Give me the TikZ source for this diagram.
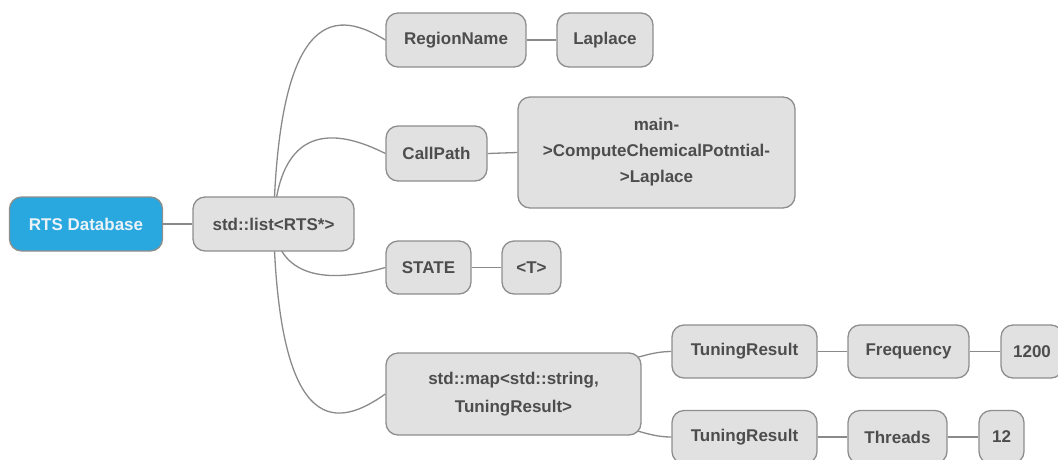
\documentclass[tikz,border=0pt]{standalone}
\usepackage{fontspec}
\setmainfont{Liberation Sans}
\usetikzlibrary{backgrounds}
\definecolor{nodefill}{HTML}{E1E1E1}
\definecolor{nodeline}{HTML}{8E8E8E}
\definecolor{nodetext}{HTML}{4D4D4D}
\definecolor{rootfill}{HTML}{29A8E0}
\definecolor{roottext}{HTML}{EAF2F8}
\definecolor{linkcol}{HTML}{8A8A8A}
\tikzset{
  box/.style={draw=nodeline, fill=nodefill, line width=1.3pt, rounded corners=12pt,
    inner sep=0pt, align=center, text=nodetext,
    font=\fontsize{17}{26}\selectfont\bfseries},
  rootbox/.style={box, fill=rootfill, text=roottext},
  link/.style={draw=linkcol, line width=1.3pt}
}
\begin{document}
\begin{tikzpicture}[x=1pt,y=-1pt]
\useasboundingbox (0,0) rectangle (1058,459);
\node[rootbox, minimum width=153pt, minimum height=54pt] (rts) at (86,224) {RTS Database};
\node[box, minimum width=161pt, minimum height=54pt] (lst) at (273.5,224) {std::list<RTS*>};
\node[box, minimum width=140pt, minimum height=54pt] (rn) at (456,40) {RegionName};
\node[box, minimum width=96pt, minimum height=54pt] (lap) at (605,40) {Laplace};
\node[box, minimum width=101pt, minimum height=55pt] (cp) at (436.5,153.5) {CallPath};
\node[box, minimum width=277pt, minimum height=111pt] (mn) at (656.5,152.5) {main-\\>ComputeChemicalPotntial-\\>Laplace};
\node[box, minimum width=85pt, minimum height=53pt] (st) at (428.5,267.5) {STATE};
\node[box, minimum width=59pt, minimum height=53pt] (tt) at (531.5,267.5) {<T>};
\node[box, minimum width=255pt, minimum height=82pt, font=\fontsize{17}{28}\selectfont\bfseries] (mp) at (513.5,394) {std::map<std::string,\\TuningResult>};
\node[box, minimum width=145pt, minimum height=53pt] (tra) at (744.5,351.5) {TuningResult};
\node[box, minimum width=121pt, minimum height=53pt] (fq) at (908.5,351.5) {Frequency};
\node[box, minimum width=62pt, minimum height=53pt] (va) at (1032,351.5) {1200};
\node[box, minimum width=145pt, minimum height=53pt] (trb) at (744.5,437) {TuningResult};
\node[box, minimum width=99pt, minimum height=53pt] (th) at (897.5,437) {Threads};
\node[box, minimum width=45pt, minimum height=53pt] (vb) at (1001.5,437) {12};
\begin{pgfonlayer}{background}
\draw[link] (rts.east) -- (lst.west);
\draw[link] (lst.center) .. controls (279,0) and (340,12) .. (rn.west);
\draw[link] (lst.center) .. controls (279,123) and (335,128) .. (cp.west);
\draw[link] (lst.center) .. controls (279,282) and (335,282) .. (st.west);
\draw[link] (lst.center) .. controls (279,444) and (340,426) .. (mp.west);
\draw[link] (rn.east) -- (lap.west);
\draw[link] (cp.east) -- (mn.west);
\draw[link] (st.east) -- (tt.west);
\draw[link] (mp.center) .. controls (630,362) and (645,351.5) .. (tra.west);
\draw[link] (mp.center) .. controls (630,426) and (645,437) .. (trb.west);
\draw[link] (tra.east) -- (fq.west);
\draw[link] (fq.east) -- (va.west);
\draw[link] (trb.east) -- (th.west);
\draw[link] (th.east) -- (vb.west);
\end{pgfonlayer}
\end{tikzpicture}
\end{document}
